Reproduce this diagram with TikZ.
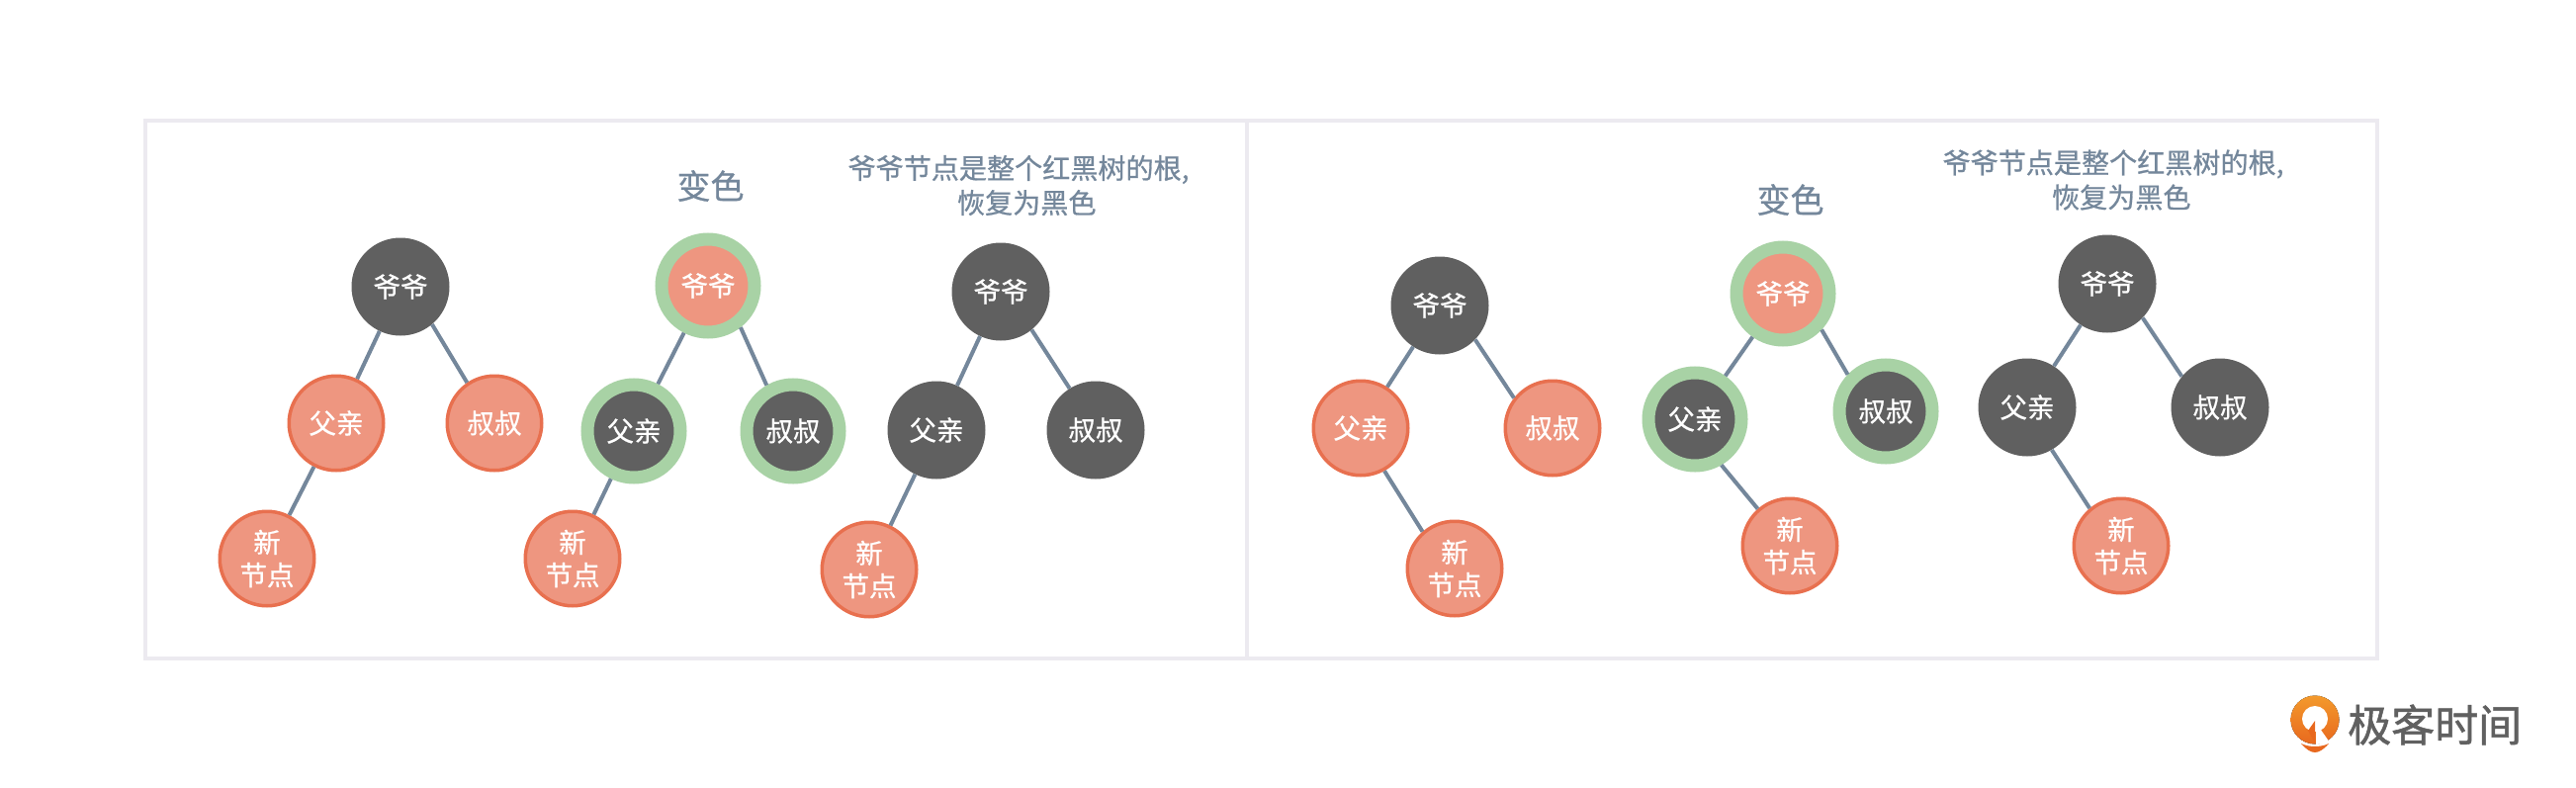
\documentclass[tikz,border=0pt]{standalone}
\usepackage{fontspec}
\setmainfont{Noto Sans CJK SC}
\newfontfamily\medfont[FakeBold=0.7]{Noto Sans CJK SC}
\newfontfamily\logofont[FakeBold=1.2]{Noto Sans CJK SC}
\definecolor{darkn}{HTML}{606060}
\definecolor{redn}{HTML}{EE9680}
\definecolor{redl}{HTML}{E8704F}
\definecolor{ringc}{HTML}{A8D2A5}
\definecolor{edgec}{HTML}{74879B}
\definecolor{framec}{HTML}{ECEAF0}
\definecolor{logoa}{HTML}{F39A2C}
\definecolor{logob}{HTML}{E8681E}
\tikzset{
 nd/.style={circle,inner sep=0pt,align=center,text=white,font=\medfont\fontsize{27.5}{33}\selectfont},
 blk/.style={nd,fill=darkn,minimum size=99pt},
 red/.style={nd,fill=redn,draw=redl,line width=3.5pt,minimum size=95.5pt},
 ringb/.style={nd,fill=darkn,draw=ringc,line width=13pt,minimum size=94pt},
 ringr/.style={nd,fill=redn,draw=ringc,line width=13pt,minimum size=94pt},
 ed/.style={draw=edgec,line width=4pt},
 captxt/.style={text=edgec,align=center,inner sep=0pt,font=\medfont\fontsize{28.1}{35}\selectfont},
 headtxt/.style={text=edgec,inner sep=0pt,font=\medfont\fontsize{34}{40}\selectfont},
}
\begin{document}
\begin{tikzpicture}[x=1pt,y=-1pt]
\useasboundingbox (0,0) rectangle (2605,797);
\fill[white] (0,0) rectangle (2605,797);
\draw[framec,line width=4pt] (147,122) rectangle (2404,666) (1261,122) -- (1261,666);
% tree 1
\node[blk] (a1) at (405,290) {爷爷};
\node[red] (b1) at (340,428) {父亲};
\node[red] (c1) at (500,428) {叔叔};
\node[red] (d1) at (270,565) {新\\节点};
% tree 2
\node[ringr] (a2) at (716,289) {爷爷};
\node[ringb] (b2) at (641,436) {父亲};
\node[ringb] (c2) at (802,436) {叔叔};
\node[red] (d2) at (579,565) {新\\节点};
% tree 3
\node[blk] (a3) at (1012,295) {爷爷};
\node[blk] (b3) at (947,435) {父亲};
\node[blk] (c3) at (1108,435) {叔叔};
\node[red] (d3) at (879,576) {新\\节点};
% tree 4
\node[blk] (a4) at (1456,309) {爷爷};
\node[red] (b4) at (1376,433) {父亲};
\node[red] (c4) at (1570,433) {叔叔};
\node[red] (d4) at (1471,575) {新\\节点};
% tree 5
\node[ringr] (a5) at (1803,297) {爷爷};
\node[ringb] (b5) at (1714,424) {父亲};
\node[ringb] (c5) at (1907,416) {叔叔};
\node[red] (d5) at (1810,552) {新\\节点};
% tree 6
\node[blk] (a6) at (2131,287) {爷爷};
\node[blk] (b6) at (2050,412) {父亲};
\node[blk] (c6) at (2245,412) {叔叔};
\node[red] (d6) at (2145,552) {新\\节点};
% connectors
\draw[ed] (a1)--(b1) (a1.-50)--(c1.124) (b1)--(d1);
\draw[ed] (a2)--(b2) (a2.-52)--(c2.120) (b2)--(d2);
\draw[ed] (a3)--(b3) (a3.-51)--(c3.122) (b3)--(d3);
\draw[ed] (a4)--(b4) (a4.-44)--(c4.142) (b4.-61)--(d4.131);
\draw[ed] (a5)--(b5) (a5.-43)--(c5.136) (b5.-60)--(d5.131);
\draw[ed] (a6)--(b6) (a6.-44)--(c6.141) (b6.-60)--(d6.130);
\node[headtxt] (h1) at (718.5,188) {变色};
\node[headtxt] (h2) at (1810.5,202) {变色};
\node[captxt] (t1) at (1030,187.5) {爷爷节点是整个红黑树的根,\\\hspace*{16.5pt}恢复为黑色};
\node[captxt] (t2) at (2137,182) {爷爷节点是整个红黑树的根,\\\hspace*{16.5pt}恢复为黑色};
% logo
\fill[top color=logoa,bottom color=logob] (2341,728) circle (24.5);
\fill[white] (2341,727) circle (13);
\fill[logob] (2341,729) -- (2334,739) -- (2341,751) -- cycle;
\fill[white] (2342,731) -- (2342,753) -- (2356,751) -- (2349,741) -- cycle;
\fill[logob] (2327,752) .. controls (2335,756) and (2347,756) .. (2355,752) .. controls (2350,758) and (2345,761) .. (2341,761) .. controls (2337,761) and (2332,758) .. (2327,752) -- cycle;
\node[text=darkn,inner sep=0pt,anchor=west,font=\logofont\fontsize{44}{44}\selectfont] (logo) at (2374,733) {极客时间};
\end{tikzpicture}
\end{document}
